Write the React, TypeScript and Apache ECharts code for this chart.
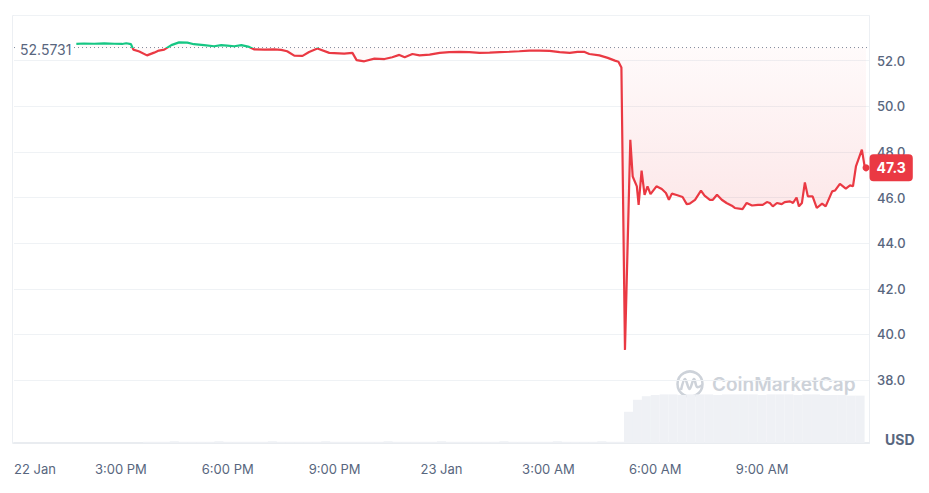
import React, { useEffect, useRef } from 'react';
import * as echarts from 'echarts';

// Reference (open) price shown as dotted line
const refPrice = 52.5731;

// Minutes since 22 Jan 12:00
const priceMinutes = [
  105, 118, 135, 152, 169, 182, 189, 197, 201, 211, 224, 236, 244, 253, 265, 278, 292, 303, 320, 337,
  349, 359, 371, 383, 396, 405, 422, 438, 450, 460, 472, 486, 497, 511, 531, 556, 570, 577, 590, 607,
  624, 637, 649, 658, 671, 683, 700, 717, 733, 750, 767, 784, 801, 818, 835, 851, 868, 885, 902, 919,
  936, 949, 961, 969, 986, 1000, 1012, 1018, 1023, 1029, 1038, 1042, 1049, 1052, 1057, 1062, 1067, 1072, 1082, 1091,
  1098, 1103, 1108, 1116, 1126, 1133, 1138, 1147, 1157, 1163, 1172, 1177, 1184, 1192, 1200, 1209, 1214, 1227, 1234, 1243,
  1253, 1261, 1268, 1273, 1278, 1285, 1293, 1298, 1307, 1312, 1318, 1322, 1327, 1332, 1337, 1345, 1352, 1361, 1367, 1378,
  1383, 1391, 1401, 1408, 1413, 1418, 1428, 1433, 1435,
];
const prices = [
  52.73, 52.75, 52.74, 52.76, 52.74, 52.73, 52.76, 52.72, 52.48, 52.40, 52.23, 52.35, 52.44, 52.48, 52.68, 52.80, 52.79, 52.72, 52.68, 52.63,
  52.68, 52.66, 52.63, 52.68, 52.60, 52.49, 52.48, 52.49, 52.47, 52.41, 52.22, 52.21, 52.38, 52.53, 52.34, 52.31, 52.34, 52.02, 51.97, 52.09,
  52.07, 52.15, 52.25, 52.15, 52.29, 52.23, 52.26, 52.34, 52.37, 52.38, 52.37, 52.34, 52.35, 52.37, 52.39, 52.41, 52.44, 52.44, 52.43, 52.37,
  52.34, 52.38, 52.38, 52.29, 52.23, 52.12, 52.0, 51.95, 51.7, 39.32, 48.53, 46.92, 46.49, 45.68, 47.18, 46.12, 46.49, 46.15, 46.49, 46.37,
  46.2, 45.9, 46.17, 46.11, 46.02, 45.71, 45.73, 45.9, 46.3, 46.08, 45.9, 45.9, 46.12, 45.9, 45.76, 45.64, 45.54, 45.49, 45.76, 45.65,
  45.68, 45.68, 45.8, 45.76, 45.61, 45.76, 45.71, 45.8, 45.83, 45.76, 46.0, 45.61, 45.76, 46.66, 46.05, 46.05, 45.54, 45.73, 45.61, 46.27,
  46.31, 46.6, 46.39, 46.53, 46.49, 47.36, 48.1, 47.3, 47.3,
];

// Volume buckets (15 min each) starting 22 Jan 15:45
const volumeStartMinute = 225;
const volumeStepMinutes = 15;
const volumes = [
  2, 2, 2, 3, 2, 2, 2, 2, 3, 2, 2, 2, 2, 2, 3, 2, 2, 2, 2, 2,
  3, 2, 2, 2, 2, 2, 2, 3, 2, 2, 2, 2, 2, 3, 2, 2, 2, 2, 2, 2,
  3, 2, 2, 2, 2, 2, 3, 2, 2, 2, 2, 3, 2, 2,
  52, 72, 78, 80, 81, 81, 80, 81, 81, 81, 80, 81, 81, 81, 81, 80, 81, 81, 81, 80,
  81, 81, 80, 80, 80, 79, 79,
];

const xTickLabels = ['22 Jan', '3:00 PM', '6:00 PM', '9:00 PM', '23 Jan', '3:00 AM', '6:00 AM', '9:00 AM', ''];

const GREEN = '#16c784';
const RED = '#ea3943';
const TEXT = '#58667e';

export default function App() {
  const ref = useRef<HTMLDivElement>(null);

  useEffect(() => {
    if (!ref.current) return;
    const chart = echarts.init(ref.current, null, { renderer: 'svg' });

    const priceData = priceMinutes.map((m, i) => [m, prices[i]]);
    const volumeData = volumes.map((v, i) => [volumeStartMinute + i * volumeStepMinutes, v]);
    const lastPoint = priceData[priceData.length - 1];

    const option: any = {
      animation: false,
      backgroundColor: '#ffffff',
      textStyle: { fontFamily: 'Inter, "Noto Sans", sans-serif' },
      grid: [
        { left: 14, top: 15, width: 855, height: 365 },
        { left: 14, top: 383, width: 855, height: 60 },
      ],
      xAxis: [
        { type: 'value', gridIndex: 0, min: 0, max: 1440, interval: 180, show: false },
        {
          type: 'value',
          gridIndex: 1,
          min: 0,
          max: 1440,
          interval: 180,
          axisLine: { show: true, lineStyle: { color: '#e9ecf0', width: 2 } },
          axisTick: { show: false },
          splitLine: { show: false },
          axisLabel: {
            margin: 19,
            color: TEXT,
            fontSize: 13,
            alignMinLabel: 'left',
            showMaxLabel: false,
            formatter: (v: number) => xTickLabels[Math.round(v / 180)] ?? '',
          },
        },
      ],
      yAxis: [
        {
          type: 'value',
          gridIndex: 0,
          position: 'right',
          min: 38,
          max: 54,
          interval: 2,
          axisLine: { show: false },
          axisTick: { show: false },
          splitLine: { lineStyle: { color: '#eff2f5', width: 1 } },
          axisLabel: {
            margin: 8,
            color: TEXT,
            fontSize: 13,
            fontWeight: 500,
            formatter: (v: number) => (v >= 54 ? '' : v.toFixed(1)),
          },
        },
        { type: 'value', gridIndex: 1, min: 0, max: 100, show: false },
      ],
      visualMap: {
        type: 'piecewise',
        show: false,
        seriesIndex: 0,
        dimension: 1,
        pieces: [
          { gt: refPrice, lte: 60, color: GREEN },
          { gt: 30, lte: refPrice, color: RED },
        ],
        outOfRange: { color: RED },
      },
      series: [
        {
          name: 'Price',
          type: 'line',
          xAxisIndex: 0,
          yAxisIndex: 0,
          data: priceData,
          symbol: 'none',
          z: 4,
          lineStyle: { width: 2.2 },
          areaStyle: {
            origin: refPrice,
            opacity: 1,
            color: {
              type: 'linear',
              x: 0,
              y: 0,
              x2: 0,
              y2: 1,
              colorStops: [
                { offset: 0, color: 'rgba(234,57,67,0.02)' },
                { offset: 0.5, color: 'rgba(234,57,67,0.11)' },
                { offset: 1, color: 'rgba(234,57,67,0.2)' },
              ],
            },
          },
        },
        {
          name: 'Reference',
          type: 'line',
          xAxisIndex: 0,
          yAxisIndex: 0,
          data: [[0, refPrice], [1440, refPrice]],
          symbol: 'none',
          silent: true,
          z: 3,
          lineStyle: { type: [1, 3], color: '#7f8a9c', width: 1 },
        },
        {
          name: 'RefLabel',
          type: 'scatter',
          xAxisIndex: 0,
          yAxisIndex: 0,
          data: [[0, refPrice]],
          symbolSize: 0,
          silent: true,
          z: 5,
          itemStyle: { opacity: 1 },
          label: {
            show: true,
            position: 'right',
            distance: 4,
            formatter: () => String(refPrice),
            color: TEXT,
            fontSize: 14,
            backgroundColor: '#ffffff',
            padding: [1, 2],
            offset: [0, 2],
          },
        },
        {
          name: 'Last',
          type: 'scatter',
          xAxisIndex: 0,
          yAxisIndex: 0,
          data: [lastPoint],
          symbolSize: 7,
          z: 6,
          itemStyle: { color: RED, opacity: 1 },
          label: {
            show: true,
            position: 'right',
            distance: 0,
            opacity: 1,
            formatter: (p: any) => p.value[1].toFixed(1),
            color: '#ffffff',
            fontSize: 14,
            fontWeight: 'bold',
            backgroundColor: RED,
            borderRadius: 4,
            padding: [7, 7, 6, 7],
          },
        },
        {
          name: 'Volume',
          type: 'bar',
          xAxisIndex: 1,
          yAxisIndex: 1,
          data: volumeData,
          barWidth: 9,
          itemStyle: { color: '#eff1f5' },
          z: 1,
        },
      ],
      graphic: [
        {
          type: 'rect',
          silent: true,
          z: 0,
          shape: { x: 12.5, y: 15.5, width: 857, height: 428 },
          style: { fill: 'none', stroke: '#eceff3', lineWidth: 1 },
        },
        {
          type: 'circle',
          silent: true,
          z: 0,
          shape: { cx: 690, cy: 384, r: 12.5 },
          style: { fill: 'none', stroke: '#cdd2d9', lineWidth: 2.5 },
        },
        {
          type: 'polyline',
          silent: true,
          z: 0,
          shape: {
            points: [[681, 390], [685, 379], [689.5, 389], [694, 379], [697, 387], [702.5, 385]],
            smooth: 0.35,
          },
          style: { fill: 'none', stroke: '#cdd2d9', lineWidth: 2.5 },
        },
        {
          type: 'text',
          silent: true,
          z: 0,
          x: 712,
          y: 384,
          style: {
            text: 'CoinMarketCap',
            fill: '#cdd2d9',
            fontSize: 19,
            fontWeight: 600,
            fontFamily: 'Inter, sans-serif',
            verticalAlign: 'middle',
          },
        },
        {
          type: 'text',
          silent: true,
          x: 885,
          y: 439,
          style: {
            text: 'USD',
            fill: TEXT,
            fontSize: 14,
            fontWeight: 'bold',
            fontFamily: 'Inter, sans-serif',
            verticalAlign: 'middle',
          },
        },
      ],
    };

    chart.setOption(option);
    return () => chart.dispose();
  }, []);

  return (
    <div
      ref={ref}
      style={{ position: 'fixed', left: 0, top: 0, width: 929, height: 493 }}
    />
  );
}
